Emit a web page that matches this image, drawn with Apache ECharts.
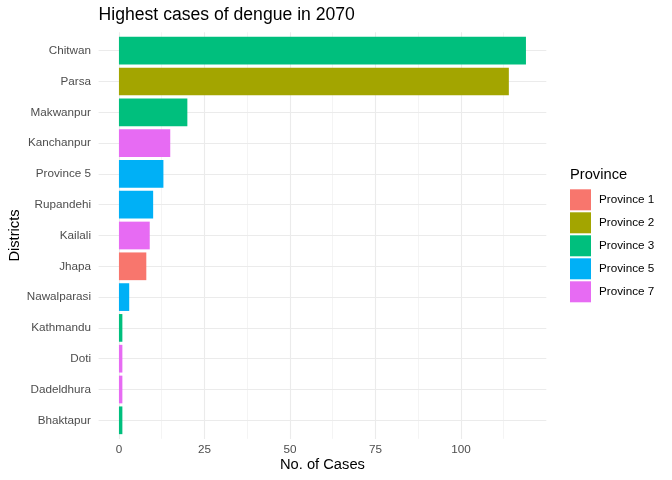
<!DOCTYPE html>
<html>
<head>
<meta charset="utf-8">
<script src="https://cdn.jsdelivr.net/npm/echarts@6/dist/echarts.min.js"></script>
<style>html,body{margin:0;padding:0;background:#fff;}#c{width:672px;height:480px;}</style>
</head>
<body>
<div id="c"></div>
<script>
var districts = ['Chitwan','Parsa','Makwanpur','Kanchanpur','Province 5','Rupandehi','Kailali','Jhapa','Nawalparasi','Kathmandu','Doti','Dadeldhura','Bhaktapur'];
var cases = [119,114,20,15,13,10,9,8,3,1,1,1,1];
var provinceOf = ['Province 3','Province 2','Province 3','Province 7','Province 5','Province 5','Province 7','Province 1','Province 5','Province 3','Province 7','Province 7','Province 3'];
var provinces = ['Province 1','Province 2','Province 3','Province 5','Province 7'];
var provinceColors = ['#F8766D','#A3A500','#00BF7D','#00B0F6','#E76BF3'];
var xTickLabels = [0,25,50,75,100];
var xMajorGrid = [0,25,50,75,100];
var xMinorGrid = [12.5,37.5,62.5,87.5,112.5];

var FONT = '"Liberation Sans", Arial, Helvetica, sans-serif';
var PL = 98.6, PW = 447.7;
var XMIN = -5.95, XMAX = 124.95;

var barSeries = provinces.map(function(p, i){
  return {
    name: p, type: 'bar', stack: 'all', xAxisIndex: 0, yAxisIndex: 0,
    barCategoryGap: '10%', z: 3,
    itemStyle: {color: provinceColors[i]},
    data: districts.map(function(d, j){ return provinceOf[j] === p ? cases[j] : null; })
  };
});

var gridLineData = xMajorGrid.map(function(v){ return {xAxis: v, lineStyle: {width: 1.1}}; })
  .concat(xMinorGrid.map(function(v){ return {xAxis: v, lineStyle: {width: 0.55}}; }));

var helperV = {
  type: 'scatter', xAxisIndex: 1, yAxisIndex: 1, symbolSize: 0, silent: true,
  data: [[0, -1]], z: 0,
  markLine: {silent: true, symbol: 'none', z: 0, label: {show: false},
    lineStyle: {color: '#ebebeb', type: 'solid'}, data: gridLineData}
};
var helperH = {
  type: 'line', xAxisIndex: 0, yAxisIndex: 0, silent: true, z: 0, symbol: 'none',
  data: districts.map(function(){ return null; }),
  markLine: {silent: true, symbol: 'none', z: 0, label: {show: false},
    lineStyle: {color: '#ebebeb', type: 'solid', width: 1.1},
    data: districts.map(function(d){ return {yAxis: d}; })}
};

var option = {
  animation: false,
  backgroundColor: '#ffffff',
  title: [
    {text: 'Highest cases of dengue in 2070', left: PL, top: 5, padding: 0,
     textStyle: {fontFamily: FONT, fontSize: 17.6, fontWeight: 'normal', color: '#000', lineHeight: 21}},
    {text: 'Province', left: 570, top: 166.5, padding: 0,
     textStyle: {fontFamily: FONT, fontSize: 14.7, fontWeight: 'normal', color: '#000', lineHeight: 17}}
  ],
  legend: {
    orient: 'vertical', left: 570, top: 189.3, padding: 0,
    itemWidth: 21, itemHeight: 21, itemGap: 2, icon: 'rect',
    data: provinces,
    textStyle: {fontFamily: FONT, fontSize: 11.7, color: '#000', padding: [0,0,0,3]}
  },
  grid: [
    {left: PL, width: PW, top: 35.3, height: 400.4, containLabel: false, outerBoundsMode: 'none'},
    {left: PL, width: PW, top: 32.2, height: 406.7, containLabel: false, outerBoundsMode: 'none'}
  ],
  xAxis: [
    {type: 'value', gridIndex: 0, min: XMIN, max: XMAX,
     axisLine: {show: false}, axisTick: {show: false}, splitLine: {show: false},
     axisLabel: {customValues: xTickLabels, fontFamily: FONT, fontSize: 11.7, color: '#4d4d4d', margin: 7.4, lineHeight: 14},
     name: 'No. of Cases', nameLocation: 'middle', nameGap: 21, nameMoveOverlap: false,
     nameTextStyle: {fontFamily: FONT, fontSize: 14.7, color: '#000', lineHeight: 17}},
    {type: 'value', gridIndex: 1, min: XMIN, max: XMAX, show: false}
  ],
  yAxis: [
    {type: 'category', gridIndex: 0, data: districts, inverse: true,
     axisLine: {show: false}, axisTick: {show: false}, splitLine: {show: false},
     axisLabel: {fontFamily: FONT, fontSize: 11.7, color: '#4d4d4d', margin: 7.6},
     name: 'Districts', nameLocation: 'middle', nameGap: 75.5, nameRotate: 90, nameMoveOverlap: false,
     nameTextStyle: {fontFamily: FONT, fontSize: 14.7, color: '#000', lineHeight: 17}},
    {type: 'value', gridIndex: 1, min: 0, max: 1, show: false}
  ],
  series: [helperV, helperH].concat(barSeries)
};

var chart = echarts.init(document.getElementById('c'), null, {renderer: 'canvas'});
chart.setOption(option);
</script>
</body>
</html>
